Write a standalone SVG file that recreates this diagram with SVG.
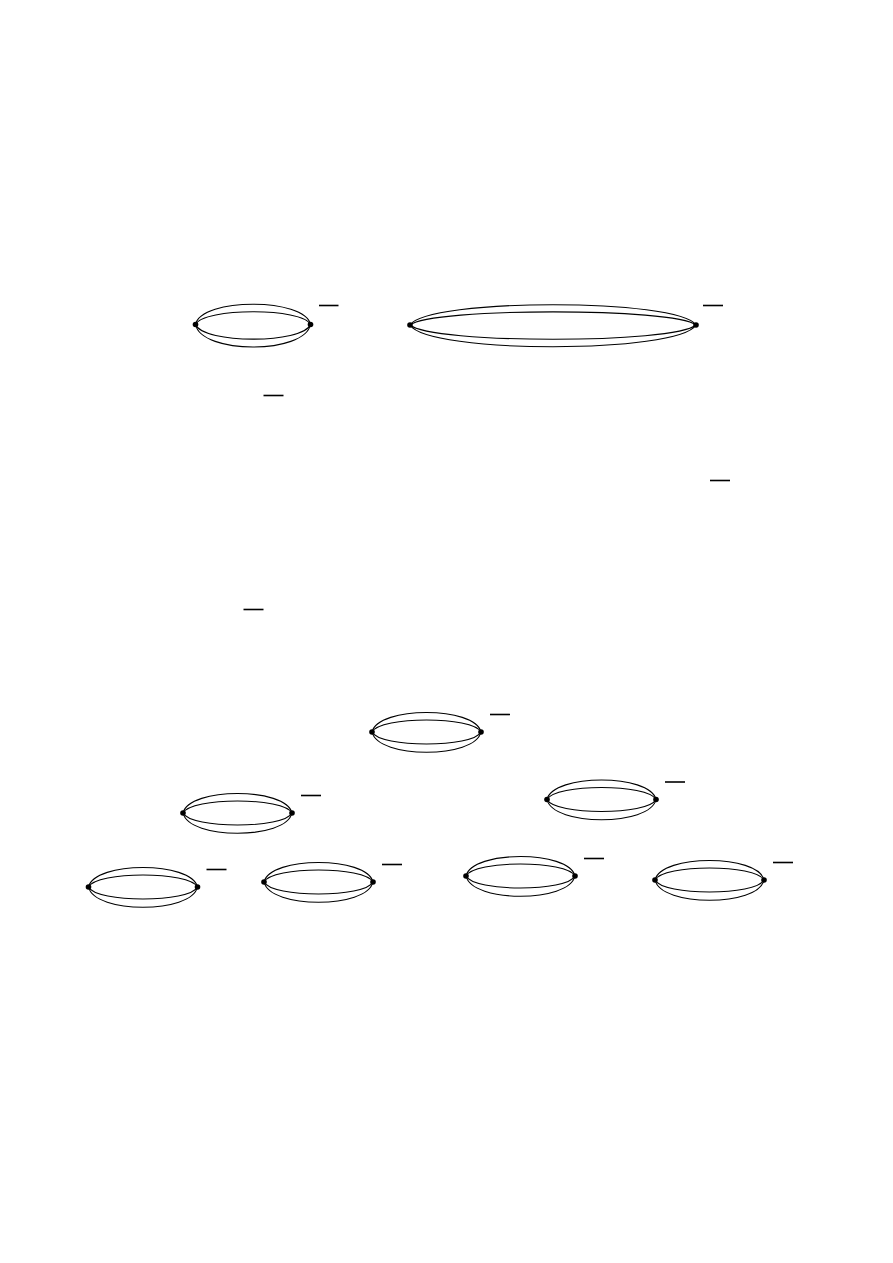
<svg xmlns="http://www.w3.org/2000/svg" xmlns:xlink="http://www.w3.org/1999/xlink" width="893" height="1263" viewBox="0 0 893 1263">
<style>
.arc{fill:none;stroke:#000;stroke-width:1.1}
.bar{stroke:#000;stroke-width:1.6}
.v{fill:#000}
</style>
<defs>
<g id="sun">
<path class="arc" d="M0,0 C6,-26 103,-26 109,0"/>
<path class="arc" d="M0,0 C8,-16 101,-16 109,0"/>
<path class="arc" d="M0,0 C8,16 101,16 109,0"/>
<path class="arc" d="M0,0 C6,27 103,27 109,0"/>
<circle class="v" cx="0" cy="0" r="2.8"/>
<circle class="v" cx="109" cy="0" r="2.8"/>
<line class="bar" x1="118" y1="-17.5" x2="138" y2="-17.5"/>
</g>
</defs>
<rect width="893" height="1263" fill="#fff"/>
<g id="d1" transform="translate(195.5,324.5)">
<path class="arc" d="M0,0 C6,-27 109,-27 115,0"/>
<path class="arc" d="M0,0 C8,-17 107,-17 115,0"/>
<path class="arc" d="M0,0 C8,19.5 107,19.5 115,0"/>
<path class="arc" d="M0,0 C6,30 109,30 115,0"/>
<circle class="v" cx="0" cy="0" r="2.8"/>
<circle class="v" cx="115" cy="0" r="2.8"/>
<line class="bar" x1="123.5" y1="-19" x2="143" y2="-19"/>
</g>
<g id="d2" transform="translate(410,325)">
<path class="arc" d="M0,0 C18,-27 268,-27 286,0"/>
<path class="arc" d="M0,0 C22,-17.5 264,-17.5 286,0"/>
<path class="arc" d="M0,0 C22,19 264,19 286,0"/>
<path class="arc" d="M0,0 C18,29 268,29 286,0"/>
<circle class="v" cx="0" cy="0" r="2.8"/>
<circle class="v" cx="286" cy="0" r="2.8"/>
<line class="bar" x1="293" y1="-19.5" x2="313" y2="-19.5"/>
</g>
<g id="b1"><line class="bar" x1="263.5" y1="395.5" x2="283.5" y2="395.5"/></g>
<g id="b2"><line class="bar" x1="710" y1="480.5" x2="730" y2="480.5"/></g>
<g id="b3"><line class="bar" x1="243.5" y1="609.5" x2="263.5" y2="609.5"/></g>
<g id="d3"><use xlink:href="#sun" x="372" y="732"/></g>
<g id="d4"><use xlink:href="#sun" x="183" y="813"/></g>
<g id="d5"><use xlink:href="#sun" x="547" y="799.5"/></g>
<g id="d6"><use xlink:href="#sun" x="88.5" y="887"/></g>
<g id="d7"><use xlink:href="#sun" x="264" y="882"/></g>
<g id="d8"><use xlink:href="#sun" x="466" y="876"/></g>
<g id="d9"><use xlink:href="#sun" x="655" y="880"/></g>
<g id="connectors"/>
</svg>
